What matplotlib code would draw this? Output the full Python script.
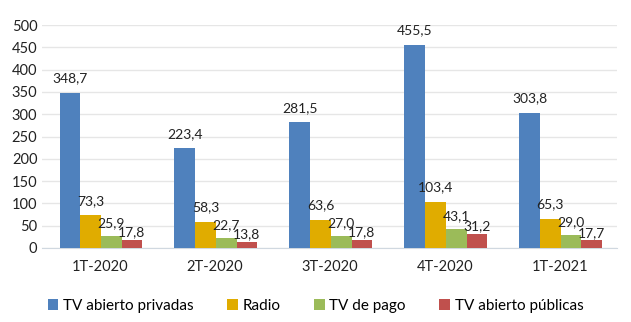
import matplotlib
matplotlib.use("Agg")
import matplotlib.pyplot as plt
import numpy as np

plt.rcParams['font.family'] = ['Lato', 'DejaVu Sans']

# Datos
trimestres = ['1T-2020', '2T-2020', '3T-2020', '4T-2020', '1T-2021']
series = ['TV abierto privadas', 'Radio', 'TV de pago', 'TV abierto públicas']
tv_privadas = [348.7, 223.4, 281.5, 455.5, 303.8]
radio = [73.3, 58.3, 63.6, 103.4, 65.3]
tv_pago = [25.9, 22.7, 27.0, 43.1, 29.0]
tv_publicas = [17.8, 13.8, 17.8, 31.2, 17.7]
valores = [tv_privadas, radio, tv_pago, tv_publicas]
colores = ['#4F81BD', '#E0AC00', '#9BBB59', '#C0504D']
# separacion de las etiquetas sobre cada serie (puntos)
pads = [6, 6, 5, 1]

fig = plt.figure(figsize=(6.31, 3.22), dpi=100)
ax = fig.add_axes([0.067, 0.23, 0.911, 0.692])

x = np.arange(len(trimestres))
w = 0.18
for i, (nombre, vals) in enumerate(zip(series, valores)):
    barras = ax.bar(x + (i - 1.5) * w + 0.01, vals, w, color=colores[i], label=nombre, zorder=3)
    ax.bar_label(barras, labels=[f'{v:.1f}'.replace('.', ',') for v in vals],
                 padding=pads[i], fontsize=10, color='#222222')

ax.set_ylim(0, 500)
ax.set_xlim(-0.5, len(trimestres) - 0.5)
ax.set_yticks(range(0, 501, 50))
ax.set_xticks(x)
ax.set_xticklabels(trimestres)
ax.tick_params(axis='both', length=0, labelsize=10.5, colors='#222222')
ax.tick_params(axis='x', pad=9)
ax.grid(axis='y', color='#E6E6E6', linewidth=1, zorder=0)
for s in ['top', 'right', 'left']:
    ax.spines[s].set_visible(False)
ax.spines['bottom'].set_color('#D0D8E0')

fig.legend(loc='lower center', ncol=4, frameon=False, fontsize=11,
           bbox_to_anchor=(0.5, -0.015), handlelength=0.7, handleheight=0.7,
           handletextpad=0.3, columnspacing=2.2)

fig.savefig('out.png', dpi=100)
